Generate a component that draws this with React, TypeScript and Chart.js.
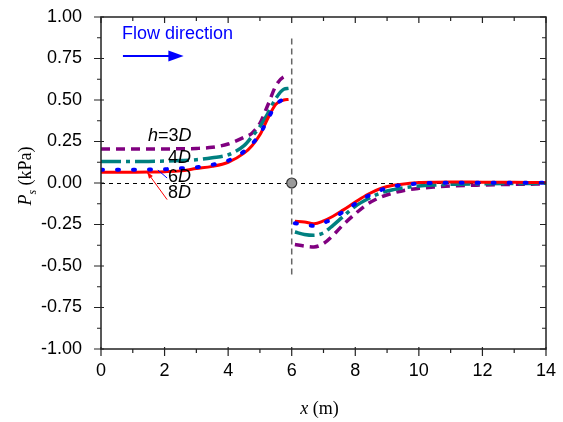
import React, { useEffect, useRef } from "react";
import { Chart, registerables } from "chart.js";

Chart.register(...registerables);

// ---------- data ----------
const xUp = [0, 0.5, 1, 1.5, 2, 2.5, 3, 3.5, 4, 4.5, 4.75, 5, 5.25, 5.5, 5.75, 5.9];
const xDown = [6.1, 6.4, 6.7, 7.0, 7.3, 7.6, 8.0, 8.4, 8.8, 9.2, 9.6, 10, 10.5, 11, 12, 13, 14];

const h3Up = [0.205, 0.205, 0.205, 0.205, 0.205, 0.206, 0.208, 0.215, 0.235, 0.275, 0.3, 0.36, 0.47, 0.585, 0.64, 0.645];
const h4Up = [0.13, 0.13, 0.13, 0.13, 0.132, 0.135, 0.14, 0.152, 0.17, 0.225, 0.28, 0.34, 0.42, 0.51, 0.565, 0.57];
const h6Up = [0.08, 0.08, 0.08, 0.081, 0.083, 0.088, 0.095, 0.11, 0.135, 0.19, 0.235, 0.295, 0.385, 0.47, 0.505, 0.512];
const h8Up = [0.065, 0.065, 0.065, 0.066, 0.068, 0.073, 0.087, 0.1, 0.125, 0.18, 0.225, 0.29, 0.39, 0.475, 0.5, 0.503];

const h3Down = [-0.37, -0.38, -0.385, -0.365, -0.315, -0.255, -0.185, -0.125, -0.085, -0.06, -0.042, -0.032, -0.024, -0.018, -0.012, -0.008, -0.006];
const h4Down = [-0.295, -0.31, -0.315, -0.3, -0.255, -0.205, -0.14, -0.095, -0.06, -0.04, -0.027, -0.018, -0.012, -0.008, -0.005, -0.003, -0.002];
const h6Down = [-0.243, -0.25, -0.258, -0.24, -0.215, -0.175, -0.125, -0.078, -0.043, -0.02, -0.01, -0.003, 0, 0.001, 0.001, 0.001, 0.001];
const h8Down = [-0.23, -0.235, -0.245, -0.228, -0.2, -0.165, -0.115, -0.068, -0.033, -0.014, -0.004, 0.003, 0.005, 0.006, 0.005, 0.004, 0.003];

const seriesLabels = ["h=3D", "4D", "6D", "8D"];
const xTicks = [0, 2, 4, 6, 8, 10, 12, 14];
const yTicks = [-1, -0.75, -0.5, -0.25, 0, 0.25, 0.5, 0.75, 1];

const pts = (ya: number[], yb: number[]) => [
  ...xUp.map((x, i) => ({ x, y: ya[i] })),
  { x: 6, y: null as any },
  ...xDown.map((x, i) => ({ x, y: yb[i] })),
];

const SANS = "'Liberation Sans', Arial, sans-serif";
const SERIF = "'Liberation Serif', 'Times New Roman', serif";

const overlay = {
  id: "overlay",
  beforeDatasetsDraw(chart: any) {
    const { ctx, scales } = chart;
    const xs = scales.x, ys = scales.y;
    ctx.save();
    ctx.strokeStyle = "#000";
    ctx.lineWidth = 1;
    ctx.setLineDash([4, 4]);
    ctx.beginPath();
    ctx.moveTo(xs.getPixelForValue(0), ys.getPixelForValue(0) + 0.5);
    ctx.lineTo(xs.getPixelForValue(14), ys.getPixelForValue(0) + 0.5);
    ctx.stroke();
    ctx.strokeStyle = "#666";
    ctx.lineWidth = 1.5;
    ctx.setLineDash([6, 4]);
    ctx.beginPath();
    ctx.moveTo(xs.getPixelForValue(6), ys.getPixelForValue(0.87));
    ctx.lineTo(xs.getPixelForValue(6), ys.getPixelForValue(-0.56));
    ctx.stroke();
    ctx.restore();
  },
  afterDatasetsDraw(chart: any) {
    const { ctx, scales, chartArea: ca } = chart;
    const xs = scales.x, ys = scales.y;
    const X = (v: number) => xs.getPixelForValue(v);
    const Y = (v: number) => ys.getPixelForValue(v);
    ctx.save();
    ctx.setLineDash([]);

    ctx.beginPath();
    ctx.arc(X(6), Y(0), 5, 0, Math.PI * 2);
    ctx.fillStyle = "#9a9a9a";
    ctx.fill();
    ctx.strokeStyle = "#333";
    ctx.lineWidth = 1.2;
    ctx.stroke();

    ctx.strokeStyle = "#222";
    ctx.lineWidth = 1.5;
    ctx.strokeRect(ca.left, ca.top, ca.right - ca.left, ca.bottom - ca.top);

    ctx.lineWidth = 1.2;
    ctx.beginPath();
    for (let v = 0; v <= 14; v += 1) {
      const px = X(v);
      const major = v % 2 === 0;
      ctx.moveTo(px, ca.bottom - (major ? 2 : 0));
      ctx.lineTo(px, ca.bottom + (major ? 7 : 4));
      ctx.moveTo(px, ca.top);
      ctx.lineTo(px, ca.top + (major ? 6 : 4));
    }
    for (let k = -8; k <= 8; k++) {
      const v = k * 0.125;
      const py = Y(v);
      const major = k % 2 === 0;
      ctx.moveTo(ca.left + (major ? 3 : 0), py);
      ctx.lineTo(ca.left - (major ? 7 : 4), py);
      ctx.moveTo(ca.right, py);
      ctx.lineTo(ca.right - (major ? 6 : 4), py);
    }
    ctx.stroke();

    ctx.fillStyle = "#0000ff";
    ctx.font = `18px ${SANS}`;
    ctx.textBaseline = "alphabetic";
    ctx.textAlign = "left";
    ctx.fillText("Flow direction", X(0.66), Y(0.865));
    const ay = Y(0.765);
    ctx.strokeStyle = "#0000ff";
    ctx.lineWidth = 2;
    ctx.beginPath();
    ctx.moveTo(X(0.69), ay);
    ctx.lineTo(X(2.15), ay);
    ctx.stroke();
    ctx.beginPath();
    ctx.moveTo(X(2.6), ay);
    ctx.lineTo(X(2.12), ay - 5.5);
    ctx.lineTo(X(2.12), ay + 5.5);
    ctx.closePath();
    ctx.fill();

    const drawParts = (parts: [string, boolean][], x: number, y: number) => {
      let cx = x;
      for (const [t, it] of parts) {
        ctx.font = `${it ? "italic " : ""}18px ${SANS}`;
        ctx.fillText(t, cx, y);
        cx += ctx.measureText(t).width;
      }
    };
    ctx.fillStyle = "#000";
    drawParts([["h", true], ["=3", false], ["D", true]], X(1.48), Y(0.253));
    drawParts([["4", false], ["D", true]], X(2.11), Y(0.12));
    drawParts([["6", false], ["D", true]], X(2.11), Y(0.006));
    drawParts([["8", false], ["D", true]], X(2.11), Y(-0.09));

    ctx.strokeStyle = "#ff0000";
    ctx.fillStyle = "#ff0000";
    ctx.lineWidth = 1;
    const rx0 = X(1.45), ry0 = Y(0.066), rx1 = X(2.08), ry1 = Y(-0.1);
    ctx.beginPath();
    ctx.moveTo(rx1, ry1);
    ctx.lineTo(rx0, ry0);
    ctx.stroke();
    const ang = Math.atan2(ry0 - ry1, rx0 - rx1);
    ctx.beginPath();
    ctx.moveTo(rx0, ry0);
    ctx.lineTo(rx0 - 7 * Math.cos(ang - 0.35), ry0 - 7 * Math.sin(ang - 0.35));
    ctx.lineTo(rx0 - 7 * Math.cos(ang + 0.35), ry0 - 7 * Math.sin(ang + 0.35));
    ctx.closePath();
    ctx.fill();
    ctx.strokeStyle = "#0000ff";
    ctx.beginPath();
    ctx.moveTo(X(1.79), Y(0.078));
    ctx.lineTo(X(2.08), Y(0.03));
    ctx.stroke();

    ctx.fillStyle = "#000";
    ctx.textBaseline = "alphabetic";
    ctx.font = `italic 18px ${SERIF}`;
    const w1 = ctx.measureText("x").width;
    ctx.font = `18px ${SERIF}`;
    const w2 = ctx.measureText(" (m)").width;
    const cx = (ca.left + ca.right) / 2 - 4;
    const sx = cx - (w1 + w2) / 2;
    ctx.font = `italic 18px ${SERIF}`;
    ctx.fillText("x", sx, 414);
    ctx.font = `18px ${SERIF}`;
    ctx.fillText(" (m)", sx + w1, 414);

    ctx.translate(31, 176);
    ctx.rotate(-Math.PI / 2);
    ctx.font = `italic 18px ${SERIF}`;
    const pw = ctx.measureText("P").width;
    ctx.font = `italic 12px ${SERIF}`;
    const sw = ctx.measureText("s").width;
    ctx.font = `18px ${SERIF}`;
    const kw = ctx.measureText(" (kPa)").width;
    const tx = -(pw + sw + kw) / 2;
    ctx.font = `italic 18px ${SERIF}`;
    ctx.fillText("P", tx, 0);
    ctx.font = `italic 12px ${SERIF}`;
    ctx.fillText("s", tx + pw, 5);
    ctx.font = `18px ${SERIF}`;
    ctx.fillText(" (kPa)", tx + pw + sw, 0);
    ctx.restore();
  },
};

export default function App() {
  const ref = useRef<HTMLCanvasElement>(null);
  useEffect(() => {
    if (!ref.current) return;
    const chart = new Chart(ref.current, {
      type: "line",
      data: {
        datasets: [
          { label: seriesLabels[0], data: pts(h3Up, h3Down), borderColor: "#800080", borderWidth: 3.5, borderDash: [9, 6], order: 3 },
          { label: seriesLabels[1], data: pts(h4Up, h4Down), borderColor: "#008080", borderWidth: 3.5, borderDash: [20, 5, 4, 5], order: 2 },
          { label: seriesLabels[2], data: pts(h6Up, h6Down), borderColor: "#0000ff", borderWidth: 4, borderDash: [2, 14], borderCapStyle: "round", order: 0 },
          { label: seriesLabels[3], data: pts(h8Up, h8Down), borderColor: "#ff0000", borderWidth: 3, order: 1 },
        ] as any,
      },
      options: {
        animation: false,
        responsive: false,
        spanGaps: false,
        elements: {
          point: { radius: 0, hoverRadius: 0 },
          line: { cubicInterpolationMode: "monotone", fill: false },
        },
        layout: { autoPadding: false, padding: { top: 17, right: 17, left: 0, bottom: 0 } },
        plugins: { legend: { display: false }, tooltip: { enabled: false } },
        scales: {
          x: {
            type: "linear",
            min: 0,
            max: 14,
            afterBuildTicks: (s: any) => { s.ticks = xTicks.map((v) => ({ value: v })); },
            afterFit: (s: any) => { s.height = 73; s.paddingLeft = 0; s.paddingRight = 0; },
            ticks: { color: "#000", font: { family: SANS, size: 18 }, padding: 3, maxRotation: 0, autoSkip: false },
            grid: { display: false },
            border: { display: false },
          },
          y: {
            type: "linear",
            min: -1,
            max: 1,
            afterBuildTicks: (s: any) => { s.ticks = yTicks.map((v) => ({ value: v })); },
            afterFit: (s: any) => { s.width = 101; s.paddingTop = 0; s.paddingBottom = 0; },
            ticks: { color: "#000", font: { family: SANS, size: 18 }, padding: 11, autoSkip: false, callback: (v: any) => Number(v).toFixed(2) },
            grid: { display: false },
            border: { display: false },
          },
        },
      } as any,
      plugins: [overlay],
    });
    return () => chart.destroy();
  }, []);
  return (
    <div style={{ position: "fixed", left: 0, top: 0, width: 563, height: 422, background: "#fff" }}>
      <canvas ref={ref} width={563} height={422} />
    </div>
  );
}
